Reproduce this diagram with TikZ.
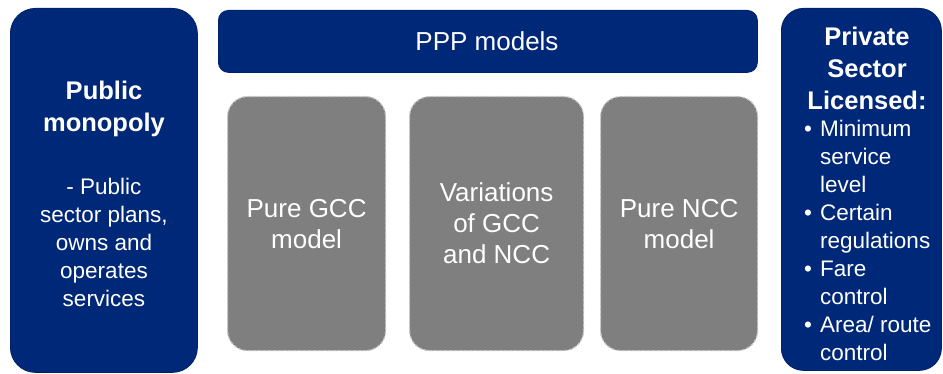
\documentclass[tikz,border=0pt]{standalone}
\usepackage{fontspec}
\setmainfont{Liberation Sans}
\definecolor{navy}{RGB}{0,40,120}
\definecolor{boxgray}{RGB}{127,127,127}
\definecolor{edgegray}{RGB}{195,195,195}
\newcommand{\bulmark}{\makebox[16pt][l]{\textbullet}}
\newcommand{\bulgap}{\hspace*{16pt}}
\tikzset{
  bluebox/.style={fill=navy, draw=navy!85!black, line width=0.8pt, anchor=north west, inner sep=0pt},
  graybox/.style={fill=boxgray, draw=edgegray, dashed, dash pattern=on 3pt off 2pt, line width=1.2pt,
    rounded corners=20pt, anchor=north west, inner sep=0pt, minimum height=254pt},
  headtext/.style={text=white, align=center, font=\fontsize{25.5}{32}\selectfont\bfseries},
  bodytext/.style={text=white, align=center, font=\fontsize{22.5}{28}\selectfont},
  modeltext/.style={text=white, align=center, font=\fontsize{26}{31}\selectfont}
}
\begin{document}
\begin{tikzpicture}[x=1pt, y=-1pt]
    \useasboundingbox (0,0) rectangle (943,374);

    % left column
    \node[bluebox, rounded corners=25pt, minimum width=187pt, minimum height=364pt] (public) at (10,8) {};
    \node[headtext] (publichead) at (104,109) {Public\\monopoly};
    \node[bodytext] (publicbody) at (104,242) {- Public\\sector plans,\\owns and\\operates\\services};

    % PPP models bar and the three models
    \node[bluebox, rounded corners=10pt, minimum width=539pt, minimum height=62pt] (ppp) at (218,10) {};
    \node[modeltext] (ppptext) at (487,41) {PPP models};

    \node[graybox, minimum width=158pt] (gcc) at (227,96) {};
    \node[graybox, minimum width=174pt] (mixed) at (409,96) {};
    \node[graybox, minimum width=157pt] (ncc) at (600,96) {};
    \node[modeltext] (gcctext) at (gcc.center) {Pure GCC\\model};
    \node[modeltext] (mixedtext) at (mixed.center) {Variations\\of GCC\\and NCC};
    \node[modeltext] (ncctext) at (ncc.center) {Pure NCC\\model};

    % right column
    \node[bluebox, rounded corners=22pt, minimum width=160pt, minimum height=362pt] (private) at (781,8) {};
    \node[headtext] (privatehead) at (867,68) {Private\\Sector\\Licensed:};
    \node[bodytext, align=left, anchor=west, inner sep=0pt] (privatebody) at (804,240)
      {\bulmark Minimum\\\bulgap service\\\bulgap level\\\bulmark Certain\\\bulgap regulations\\%
       \bulmark Fare\\\bulgap control\\\bulmark Area/ route\\\bulgap control};
\end{tikzpicture}
\end{document}
